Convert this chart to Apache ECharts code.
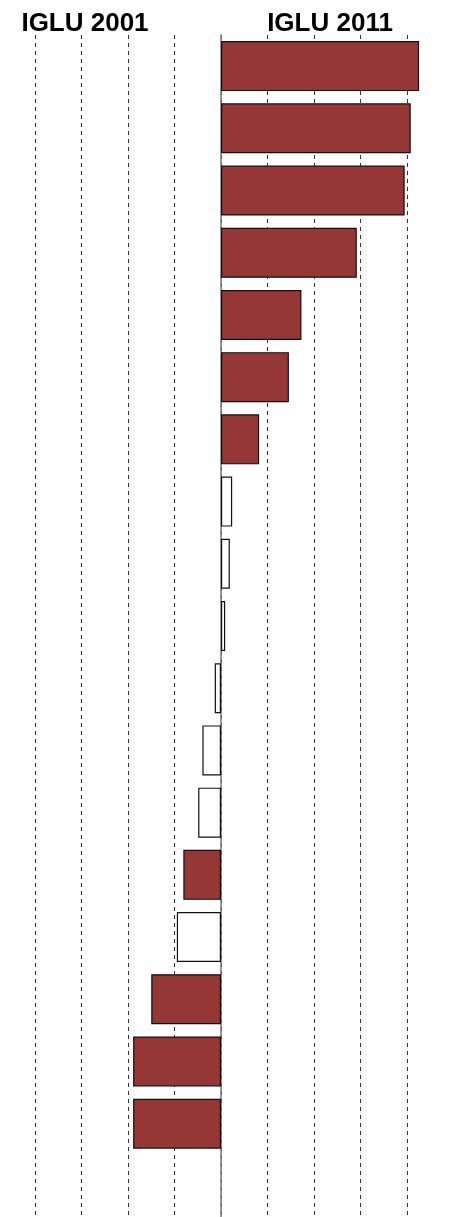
<!DOCTYPE html>
<html>
<head>
<meta charset="utf-8">
<script src="https://cdn.jsdelivr.net/npm/echarts@6/dist/echarts.min.js"></script>
<style>
  html, body { margin: 0; padding: 0; background: #fff; }
  #main { width: 450px; height: 1217px; }
</style>
</head>
<body>
<div id="main"></div>
<script>
// rows top to bottom (labels are not shown in the picture)
const categories = ['1', '2', '3', '4', '5', '6', '7', '8', '9', '10', '11', '12', '13', '14', '15', '16', '17', '18']
// change IGLU 2001 -> IGLU 2011
const diffValues = [42.6, 40.8, 39.5, 29.2, 17.3, 14.6, 8.2, 2.4, 1.9, 0.9, -1.35, -4.0, -4.9, -8.1, -9.5, -15.0, -18.9, -18.9]
// filled = significant change
const significant = [true, true, true, true, true, true, true, false, false, false, false, false, false, true, false, true, true, true]
const titles = ['IGLU 2001', 'IGLU 2011']

const chart = echarts.init(document.getElementById('main'))

// one empty slot below the last bar, the grid runs past the bottom edge
const yData = categories.concat([''])
const barData = diffValues.map((v, i) => ({
  value: v,
  itemStyle: {
    color: significant[i] ? '#953735' : '#ffffff',
    borderColor: '#111',
    borderWidth: 1.2
  }
}))
barData.push({value: null})

const titleStyle = {fontFamily: 'Liberation Sans', fontWeight: 'bold', fontSize: 26, color: '#000'}

const option = {
  animation: false,
  title: [
    {text: titles[0], left: 85, top: 11, padding: 0, textAlign: 'center', textStyle: titleStyle},
    {text: titles[1], left: 330, top: 11, padding: 0, textAlign: 'center', textStyle: titleStyle}
  ],
  grid: {
    left: 35,
    top: 35,
    width: 372,
    height: 1192,
    containLabel: false
  },
  xAxis: {
    type: 'value',
    min: -40,
    max: 40,
    interval: 10,
    axisLine: {show: false},
    axisTick: {show: false},
    axisLabel: {show: false},
    splitLine: {
      show: true,
      lineStyle: {color: '#333', width: 1, type: [4, 4]}
    }
  },
  yAxis: {
    type: 'category',
    data: yData,
    inverse: true,
    axisLine: {
      show: true,
      onZero: true,
      lineStyle: {color: '#777', width: 1.5}
    },
    axisTick: {show: false},
    axisLabel: {show: false},
    splitLine: {show: false}
  },
  series: [
    {
      type: 'bar',
      data: barData,
      barWidth: 50,
      clip: false,
      z: 3
    }
  ]
}

chart.setOption(option)
</script>
</body>
</html>
